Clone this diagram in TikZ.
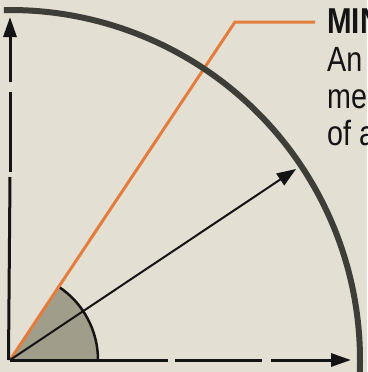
\documentclass[tikz,border=0pt]{standalone}
\usepackage{fontspec}
\setmainfont{Liberation Sans}[FakeStretch=0.82]
\usetikzlibrary{arrows.meta}
\definecolor{bg}{RGB}{227,223,211}
\definecolor{arcgray}{RGB}{62,62,56}
\definecolor{orangeline}{RGB}{228,124,62}
\definecolor{wedgefill}{RGB}{160,157,138}
\definecolor{inkblack}{RGB}{20,20,20}
\tikzset{
  axisline/.style={draw=inkblack, line width=3pt},
  axistip/.style={-{Triangle[length=20pt,width=13pt]}},
  bigarc/.style={draw=arcgray, line width=6pt},
  ray/.style={draw=orangeline, line width=3pt, line join=miter},
  vec/.style={draw=inkblack, line width=2pt, -{Triangle[length=19pt,width=14pt]}},
  lbl/.style={text=inkblack, anchor=base west, inner sep=0pt, font=\fontsize{35}{39}\selectfont},
  lblb/.style={lbl, font=\fontsize{36}{39}\selectfont\bfseries}
}
\begin{document}
\begin{tikzpicture}[x=1pt,y=-1pt]
\useasboundingbox (0,0) rectangle (367,372);
\clip (0,0) rectangle (367,372);
\fill[bg] (0,0) rectangle (367,372);
\coordinate (O) at (10,360);
\coordinate (K) at (235,22);
\coordinate (E) at (315,22);
\coordinate (T) at (296,169);
\coordinate (W) at (98,360);
% wedge
\fill[wedgefill] (O) -- (W) arc[start angle=0, end angle=-56.3, radius=88] -- cycle;
\draw[inkblack, line width=2.5pt] (W) arc[start angle=0, end angle=-56.3, radius=88];
% orange ray
\draw[ray] (O) -- (K) -- (E);
% black vector
\draw[vec] (O) -- (T);
% axes
\coordinate (h1) at (168,360);
\coordinate (h2) at (175,360);
\coordinate (h3) at (262,360);
\coordinate (h4) at (271,360);
\coordinate (hx) at (351,360);
\coordinate (v1) at (10,177);
\coordinate (v2) at (10,172);
\coordinate (v3) at (10,92);
\coordinate (v4) at (10,82);
\coordinate (vy) at (10,17);
\draw[axisline] (O) -- (h1);
\draw[axisline] (h2) -- (h3);
\draw[axisline, axistip] (h4) -- (hx);
\draw[axisline] (8.5,360) -- (v1);
\draw[axisline] (v2) -- (v3);
\draw[axisline, axistip] (v4) -- (vy);
% big arc
\draw[bigarc] (O) ++(4:350) arc[start angle=4, end angle=-91, radius=350];
% text
\node[lblb] (t1) at (327,33) {MIN};
\node[lbl] (t2) at (327,71) {An};
\node[lbl] (t3) at (327,108) {me};
\node[lbl] (t4) at (327,145) {of a};
\end{tikzpicture}
\end{document}
